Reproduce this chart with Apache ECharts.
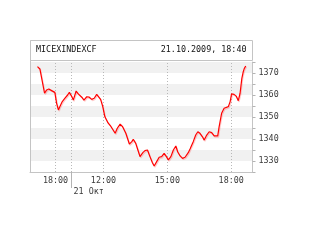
<!DOCTYPE html>
<html><head><meta charset="utf-8">
<script src="https://cdn.jsdelivr.net/npm/echarts@6/dist/echarts.min.js"></script>
<style>html,body{margin:0;padding:0;background:#fff}#c{width:320px;height:240px}</style>
</head><body><div id="c"></div>
<script>
const titleLeft = 'MICEXINDEXCF';
const titleRight = '21.10.2009, 18:40';
const dayLabel = '21 Окт';
// previous day (20 Oct) session tail
const prevTimes = ['17:09','17:16','17:20','17:29','17:35','17:41','17:49','17:58','18:03','18:08','18:12','18:19','18:26','18:34','18:39'];
const prevValues = [1372.9,1371.8,1371.4,1360.8,1362.3,1362.7,1362.0,1361.2,1356.2,1353.2,1354.7,1357.0,1358.5,1360.0,1361.2];
// 21 Oct session
const dayTimes = ['10:31','10:35','10:43','10:49','10:59','11:05','11:13','11:20','11:27','11:34','11:41','11:45','11:52','11:58',
 '12:04','12:13','12:21','12:33','12:39','12:47','12:54','13:03','13:13','13:20','13:24','13:31','13:37','13:43','13:51','13:57',
 '14:04','14:11','14:18','14:23','14:30','14:37','14:44','14:51','14:56','15:03','15:10','15:17','15:24','15:29','15:36','15:43',
 '15:50','15:59','16:04','16:13','16:20','16:26','16:32','16:39','16:44','16:51','16:58','17:05','17:12','17:22','17:26','17:33',
 '17:40','17:45','17:52','17:57','18:01','18:08','18:14','18:20','18:25','18:30','18:34','18:37','18:41'];
const dayValues = [1359.2,1357.7,1361.8,1360.5,1359.0,1357.7,1359.2,1359.0,1358.0,1358.5,1360.3,1359.5,1358.0,1354.7,
 1350.1,1347.3,1345.7,1342.6,1344.9,1346.8,1345.6,1342.6,1337.7,1338.8,1339.9,1338.0,1335.0,1332.0,1333.8,1334.7,
 1335.0,1332.0,1329.2,1327.7,1329.7,1331.7,1332.0,1333.5,1332.3,1330.5,1332.0,1335.0,1336.8,1334.2,1332.3,1331.2,
 1331.7,1333.8,1335.5,1338.8,1341.8,1343.3,1342.6,1341.0,1339.5,1341.8,1343.3,1342.9,1341.4,1341.4,1345.6,1351.7,
 1354.0,1354.7,1354.7,1357.0,1360.5,1360.3,1359.5,1357.4,1360.8,1367.6,1370.6,1372.1,1373.2];
const xTickTimes = [['prev','18:00'],['day','12:00'],['day','15:00'],['day','18:00']];
const xTickLabels = ['18:00','12:00','15:00','18:00'];
const sessionBreak = ['day','10:30'];
const yTicks = [1330,1340,1350,1360,1370];

const GAP = 8.25; // overnight gap removed from the time axis (18:45 -> 10:30)
function hrs(t){const p=t.split(':');return +p[0]+ +p[1]/60;}
function pos(day,t){return day==='prev'?hrs(t)-GAP:hrs(t);}

const data = [];
prevTimes.forEach((t,i)=>data.push([pos('prev',t),prevValues[i]]));
dayTimes.forEach((t,i)=>data.push([pos('day',t),dayValues[i]]));
const tickPos = xTickTimes.map(a=>pos(a[0],a[1]));
const breakPos = pos(sessionBreak[0],sessionBreak[1]);
const gridPos = tickPos.concat([breakPos]);

const FONT = '"DejaVu Sans Mono", "Liberation Mono", monospace';
const chart = echarts.init(document.getElementById('c'), null, {renderer:'canvas'});
chart.setOption({
  animation:false,
  backgroundColor:'#fff',
  grid:{left:30,right:67.5,top:62,bottom:68,containLabel:false},
  xAxis:[{
    type:'value',min:8.55,max:19.0,
    axisLine:{show:true,lineStyle:{color:'#c4c4c4',width:1}},
    axisTick:{show:true,customValues:[breakPos],length:16,inside:false,lineStyle:{color:'#b4b4b4'}},
    axisLabel:{customValues:tickPos,margin:5,color:'#3a3a3a',fontFamily:FONT,fontSize:8.4,
      formatter:function(v){const i=tickPos.findIndex(p=>Math.abs(p-v)<1e-6);return i>=0?xTickLabels[i]:'';}},
    splitLine:{show:false}
  },{
    type:'value',min:8.55,max:19.0,position:'bottom',
    axisLine:{show:false},axisTick:{show:false},splitLine:{show:false},
    axisLabel:{customValues:[breakPos],margin:16,align:'left',padding:[0,0,0,2],color:'#3a3a3a',fontFamily:FONT,fontSize:8.4,
      formatter:function(){return dayLabel;}}
  }],
  yAxis:{
    type:'value',position:'right',min:1325,max:1375,interval:5,
    axisLine:{show:true,lineStyle:{color:'#c4c4c4',width:1}},
    axisTick:{show:true,length:3,lineStyle:{color:'#b4b4b4'}},
    axisLabel:{margin:6,color:'#3a3a3a',fontFamily:FONT,fontSize:8.4,
      formatter:function(v){return yTicks.indexOf(v)>=0?String(v):'';}},
    splitLine:{show:false},
    splitArea:{show:true,areaStyle:{color:['#ffffff','#f1f1f1']}}
  },
  graphic:[
    {type:'rect',shape:{x:30.5,y:40.5,width:222,height:20},style:{fill:'#fff',stroke:'#c4c4c4',lineWidth:1},z:10},
    {type:'line',shape:{x1:30.5,y1:40.5,x2:30.5,y2:172},style:{stroke:'#c4c4c4',lineWidth:1},z:10},
    {type:'text',left:36,top:46,style:{text:titleLeft,font:'8.4px '+FONT,fill:'#111'},z:11},
    {type:'text',right:73.5,top:46,style:{text:titleRight,font:'8.4px '+FONT,fill:'#111',textAlign:'right'},z:11}
  ],
  series:[{
    type:'line',data:data,showSymbol:false,symbol:'none',
    lineStyle:{color:'#ff0000',width:1.2,shadowColor:'rgba(255,80,80,0.3)',shadowBlur:0,shadowOffsetX:0.8,shadowOffsetY:1.2},
    markLine:{silent:true,symbol:['none','none'],label:{show:false},
      lineStyle:{color:'#b8b8b8',type:[1,2],width:1},
      data:gridPos.map(p=>({xAxis:p})),z:1},
    z:5
  }]
});
</script></body></html>
